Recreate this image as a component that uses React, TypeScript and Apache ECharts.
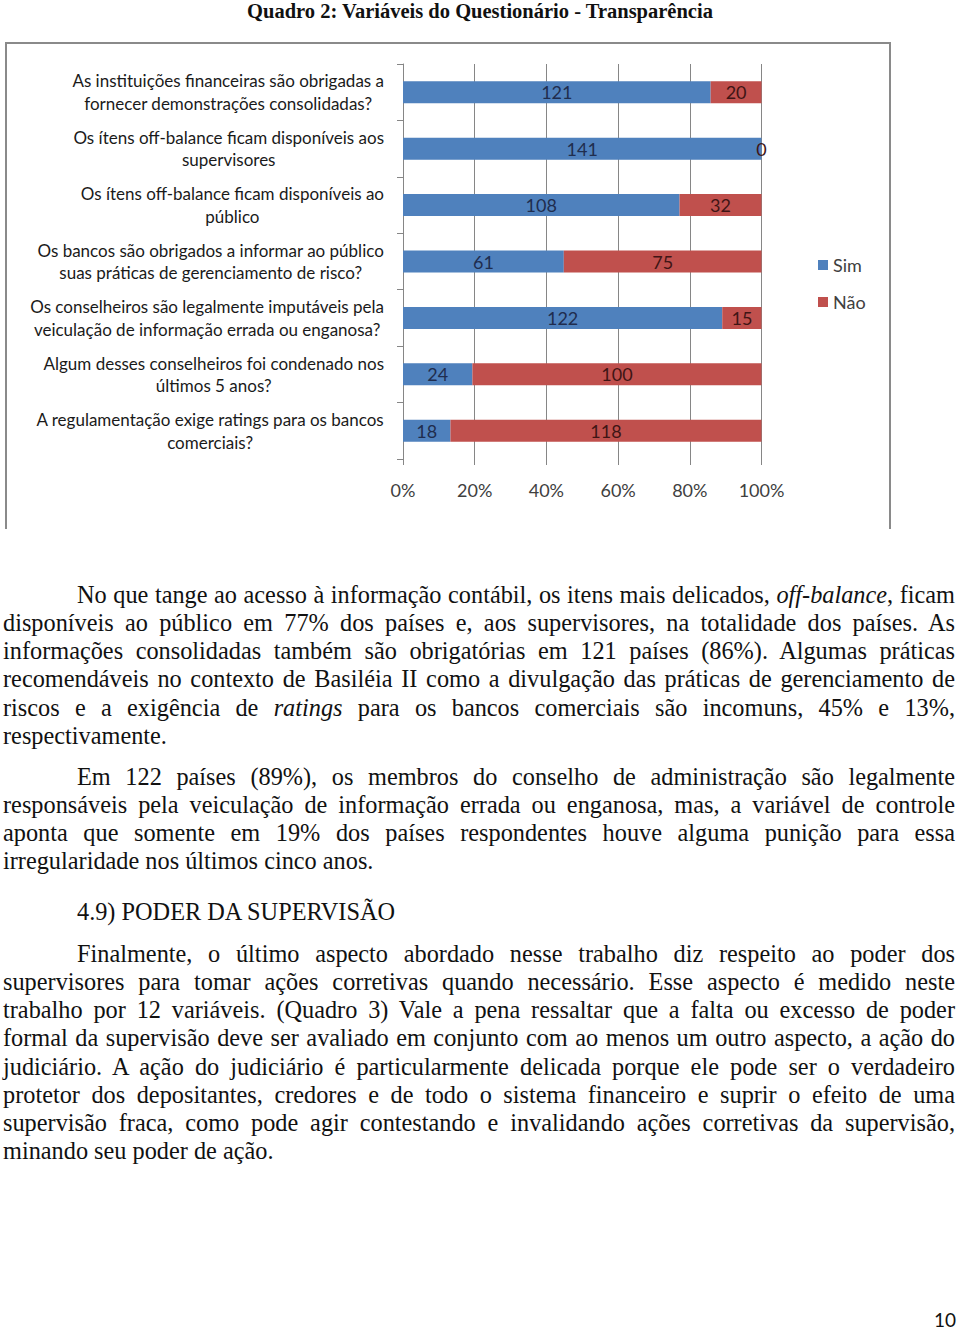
import React, { useEffect, useRef } from "react";
import * as echarts from "echarts";

const categories: string[] = [
  "As instituições financeiras são obrigadas a\nfornecer demonstrações consolidadas?",
  "Os ítens off-balance ficam disponíveis aos\nsupervisores",
  "Os ítens off-balance ficam disponíveis ao\npúblico",
  "Os bancos são obrigados a informar ao público\nsuas práticas de gerenciamento de risco?",
  "Os conselheiros são legalmente imputáveis pela\nveiculação de informação errada ou enganosa?",
  "Algum desses conselheiros foi condenado nos\núltimos 5 anos?",
  "A regulamentação exige ratings para os bancos\ncomerciais?",
];
const simValues: number[] = [121, 141, 108, 61, 122, 24, 18];
const naoValues: number[] = [20, 0, 32, 75, 15, 100, 118];
const seriesNames: string[] = ["Sim", "Não"];
const xTicks: number[] = [0, 20, 40, 60, 80, 100];

type Line = { t: React.ReactNode; indent?: boolean; last?: boolean };

const para1: Line[] = [
  { t: <>No que tange ao acesso à informação contábil, os itens mais delicados, <i>off-balance</i>, ficam</>, indent: true },
  { t: "disponíveis ao público em 77% dos países e, aos supervisores, na totalidade dos países. As" },
  { t: "informações consolidadas também são obrigatórias em 121 países (86%). Algumas práticas" },
  { t: "recomendáveis no contexto de Basiléia II como a divulgação das práticas de gerenciamento de" },
  { t: <>riscos e a exigência de <i>ratings</i> para os bancos comerciais são incomuns, 45% e 13%,</> },
  { t: "respectivamente.", last: true },
];
const para2: Line[] = [
  { t: "Em 122 países (89%), os membros do conselho de administração são legalmente", indent: true },
  { t: "responsáveis pela veiculação de informação errada ou enganosa, mas, a variável de controle" },
  { t: "aponta que somente em 19% dos países respondentes houve alguma punição para essa" },
  { t: "irregularidade nos últimos cinco anos.", last: true },
];
const heading = "4.9) PODER DA SUPERVISÃO";
const para3: Line[] = [
  { t: "Finalmente, o último aspecto abordado nesse trabalho diz respeito ao poder dos", indent: true },
  { t: "supervisores para tomar ações corretivas quando necessário. Esse aspecto é medido neste" },
  { t: "trabalho por 12 variáveis. (Quadro 3) Vale a pena ressaltar que a falta ou excesso de poder" },
  { t: "formal da supervisão deve ser avaliado em conjunto com ao menos um outro aspecto, a ação do" },
  { t: "judiciário. A ação do judiciário é particularmente delicada porque ele pode ser o verdadeiro" },
  { t: "protetor dos depositantes, credores e de todo o sistema financeiro e suprir o efeito de uma" },
  { t: "supervisão fraca, como pode agir contestando e invalidando ações corretivas da supervisão," },
  { t: "minando seu poder de ação.", last: true },
];

const LINE_H = 28.15;
const BODY_FS = 24.3;

function Paragraph({ lines, top }: { lines: Line[]; top: number }) {
  return (
    <>
      {lines.map((l, i) => {
        const left = l.indent ? 77 : 3;
        return (
          <div
            key={i}
            style={{
              position: "absolute",
              left,
              width: 955 - left,
              top: top + i * LINE_H,
              fontFamily: "'Liberation Serif', 'Times New Roman', serif",
              fontSize: BODY_FS,
              lineHeight: LINE_H + "px",
              color: "#111",
              textAlign: l.last ? "left" : "justify",
              textAlignLast: l.last ? "left" : "justify",
            } as React.CSSProperties}
          >
            {l.t}
          </div>
        );
      })}
    </>
  );
}

function Chart() {
  const ref = useRef<HTMLDivElement>(null);
  useEffect(() => {
    if (!ref.current) return;
    const chart = echarts.init(ref.current, undefined, { renderer: "svg" });
    const totals = simValues.map((s, i) => s + naoValues[i]);
    const simPct = simValues.map((s, i) => (s / totals[i]) * 100);
    const naoPct = naoValues.map((n, i) => (n / totals[i]) * 100);
    const font = "Lato, 'Open Sans', sans-serif";
    chart.setOption({
      animation: false,
      textStyle: { fontFamily: font },
      grid: { left: 403, top: 64, width: 358.5, height: 395, containLabel: false },
      legend: {
        orient: "vertical",
        left: 813,
        top: 251,
        itemWidth: 10,
        itemHeight: 10,
        itemGap: 19,
        icon: "rect",
        textStyle: { fontFamily: font, fontSize: 18, color: "#404040" },
        data: seriesNames,
      },
      xAxis: {
        type: "value",
        min: 0,
        max: 100,
        interval: 20,
        axisLine: { show: false },
        axisTick: { show: true, length: 6, lineStyle: { color: "#868686" } },
        splitLine: { show: true, lineStyle: { color: "#868686", width: 1 } },
        axisLabel: {
          formatter: (v: number) => (xTicks.includes(v) ? v + "%" : ""),
          fontFamily: font,
          fontSize: 18,
          color: "#404040",
          margin: 22,
        },
      },
      yAxis: {
        type: "category",
        inverse: true,
        data: categories,
        axisLine: { show: true, lineStyle: { color: "#868686" } },
        axisTick: { show: true, length: 6, lineStyle: { color: "#868686" } },
        axisLabel: {
          interval: 0,
          margin: 19,
          fontFamily: font,
          fontSize: 17,
          color: "#1a1a1a",
          lineHeight: 22.5,
          formatter: (v: string) => v.split("\n").map((l) => `{c|${l}}`).join("\n"),
          rich: {
            c: { align: "center", fontFamily: font, fontSize: 17, color: "#1a1a1a", lineHeight: 22.5 },
          },
        },
      },
      series: [
        {
          name: seriesNames[0],
          type: "bar",
          stack: "total",
          barWidth: 22,
          data: simPct,
          itemStyle: { color: "#4F81BD" },
          label: {
            show: true,
            position: "inside",
            fontFamily: font,
            fontSize: 18,
            color: "#1F2D4E",
            formatter: (p: any) => String(simValues[p.dataIndex]),
          },
        },
        {
          name: seriesNames[1],
          type: "bar",
          stack: "total",
          barWidth: 22,
          data: naoPct,
          itemStyle: { color: "#C0504D" },
          label: {
            show: true,
            position: "inside",
            fontFamily: font,
            fontSize: 18,
            color: "#3F1515",
            formatter: (p: any) => String(naoValues[p.dataIndex]),
          },
        },
      ],
    });
    return () => chart.dispose();
  }, []);
  return <div ref={ref} style={{ position: "absolute", left: 0, top: 0, width: 960, height: 530 }} />;
}

export default function App() {
  return (
    <div style={{ position: "absolute", left: 0, top: 0, width: 960, height: 1330, background: "#fff", overflow: "hidden" }}>
      <div
        style={{
          position: "absolute",
          left: 0,
          width: 960,
          top: -1,
          textAlign: "center",
          fontFamily: "'Liberation Serif', 'Times New Roman', serif",
          fontWeight: "bold",
          fontSize: 20.5,
          lineHeight: "24px",
          color: "#111",
        }}
      >
        Quadro 2: Variáveis do Questionário - Transparência
      </div>
      <div
        style={{
          position: "absolute",
          left: 5,
          top: 42,
          width: 882,
          height: 485,
          borderTop: "2px solid #8a8a8a",
          borderLeft: "2px solid #8a8a8a",
          borderRight: "2px solid #8a8a8a",
        }}
      />
      <Chart />
      <Paragraph lines={para1} top={581} />
      <Paragraph lines={para2} top={763} />
      <div
        style={{
          position: "absolute",
          left: 77,
          top: 898,
          fontFamily: "'Liberation Serif', 'Times New Roman', serif",
          fontSize: BODY_FS,
          lineHeight: LINE_H + "px",
          color: "#111",
        }}
      >
        {heading}
      </div>
      <Paragraph lines={para3} top={940} />
      <div
        style={{
          position: "absolute",
          left: 900,
          width: 56,
          top: 1308,
          textAlign: "right",
          fontFamily: "Lato, sans-serif",
          fontSize: 19,
          lineHeight: "24px",
          color: "#111",
        }}
      >
        10
      </div>
    </div>
  );
}
